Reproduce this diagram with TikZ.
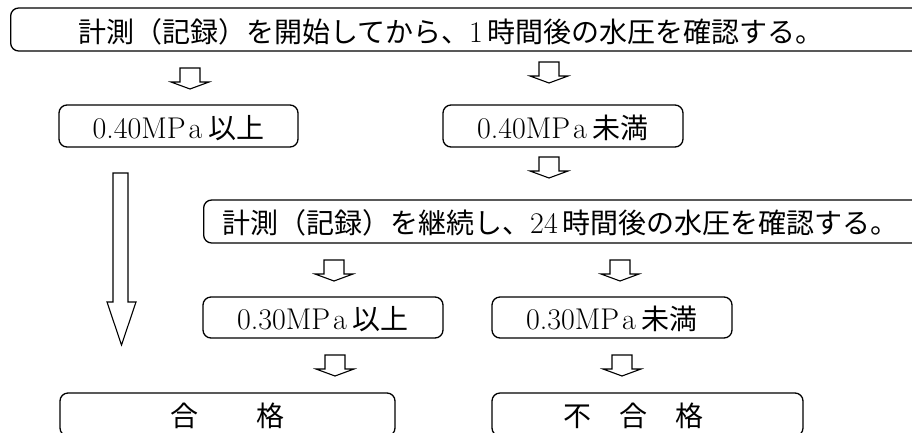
\documentclass[tikz,border=0pt]{standalone}
\usepackage{fontspec}
\newfontfamily\jp{Noto Sans CJK JP}
\newfontfamily\lmfont{Latin Modern Roman}
\newcommand\jpsize{\fontsize{28}{30}\selectfont\jp}
\newcommand\latn[1]{{\lmfont\fontsize{30}{32}\selectfont #1}}
\newcommand\harrow[1]{\path[arrowstroke, shift={#1}] (-10,0) -- (-10,14) -- (-19,14) -- (0,21) -- (19,14) -- (10,14) -- (10,0) -- cycle;}
\tikzset{
  box/.style={draw, line width=1.3pt, rounded corners=8pt, inner sep=0pt,
    text height=24pt, text depth=0pt, font=\jpsize},
  lbl/.style={inner sep=0pt, anchor=base, font=\jpsize},
  arrowstroke/.style={draw, line width=1.1pt, line join=miter}
}
\begin{document}
\begin{tikzpicture}[x=1pt,y=-1pt]
\useasboundingbox (0,0) rectangle (912,432);
\clip (0,0) rectangle (912,432);
% boxes
\node[box, minimum width=960pt, minimum height=43pt, anchor=west] (top) at (10,29.5) {};
\node[lbl] (toptext) at (451,42) {計測（記録）を開始してから、\latn{1}\hspace{5pt}時間後の水圧を確認する。};
\node[box, minimum width=239pt, minimum height=42pt] (b40a) at (178.5,126) {\latn{0.40MP\hspace{3pt}a}\hspace{6pt}以上};
\node[box, minimum width=240pt, minimum height=42pt] (b40b) at (563,126) {\latn{0.40MP\hspace{3pt}a}\hspace{6pt}未満};
\node[box, minimum width=760pt, minimum height=43pt, anchor=west] (b24) at (203,221.5) {};
\node[lbl] (b24text) at (560.5,233.5) {計測（記録）を継続し、\latn{24}\hspace{5pt}時間後の水圧を確認する。};
\node[box, minimum width=240pt, minimum height=41pt] (b30a) at (323,317.5) {\latn{0.30MP\hspace{3pt}a}\hspace{6pt}以上};
\node[box, minimum width=240pt, minimum height=41pt] (b30b) at (612,317.5) {\latn{0.30MP\hspace{3pt}a}\hspace{6pt}未満};
\node[box, minimum width=335pt, minimum height=43pt] (pass) at (227.5,414.5) {合\hspace{59pt}格};
\node[box, minimum width=311pt, minimum height=43pt] (fail) at (647.5,414.5) {};
\node[lbl] (failtext) at (633,426.5) {不\hspace{28pt}合\hspace{28pt}格};
% small hollow arrows
\harrow{(190,68)}
\harrow{(549,62)}
\harrow{(549,157)}
\harrow{(334,260)}
\harrow{(620,260)}
\harrow{(335,355)}
\harrow{(622,355)}
% big hollow arrow
\path[arrowstroke] (113,173) -- (113,302) -- (107,302) -- (121.5,345) -- (136,302) -- (128,302) -- (128,173) -- cycle;
\end{tikzpicture}
\end{document}
